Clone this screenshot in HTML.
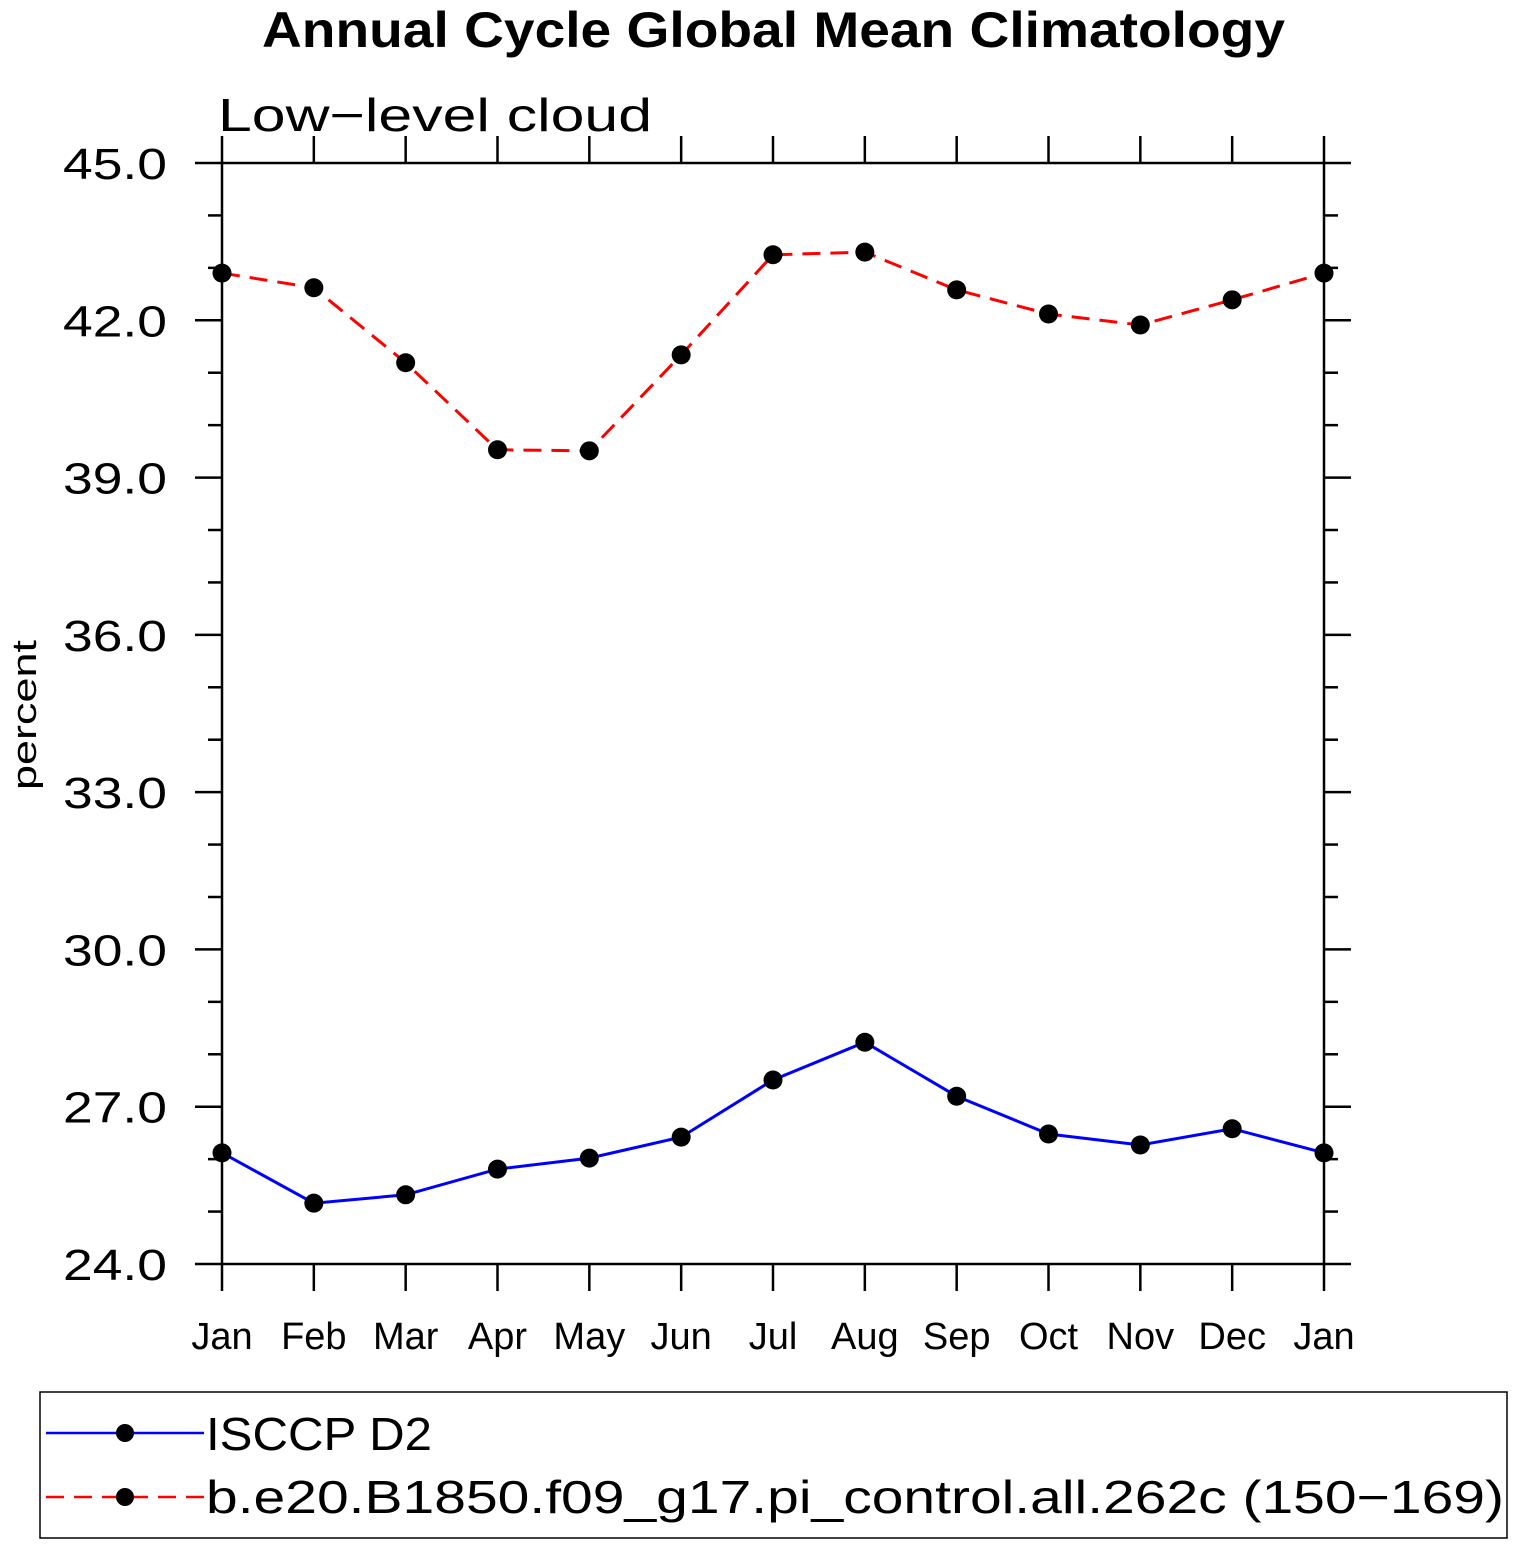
<!DOCTYPE html>
<html><head><meta charset="utf-8"><style>
body{margin:0;background:#fff;width:1514px;height:1545px;overflow:hidden}
svg text{font-family:"Liberation Sans",sans-serif}
</style></head><body>
<svg id="chart" width="1514" height="1545">
<text x="262" y="47" font-size="50" font-weight="bold" textLength="1023" lengthAdjust="spacingAndGlyphs">Annual Cycle Global Mean Climatology</text>
<text x="218" y="131" font-size="46" textLength="434" lengthAdjust="spacingAndGlyphs">Low−level cloud</text>
<text transform="translate(36,715) rotate(-90)" text-anchor="middle" font-size="34" textLength="150" lengthAdjust="spacingAndGlyphs">percent</text>
<g id="axes"></g>
<g id="series"></g>
<rect x="40" y="1392" width="1467" height="146" fill="none" stroke="#000" stroke-width="1.5"/>
<g>
<line x1="46" y1="1433" x2="204" y2="1433" stroke="#00f" stroke-width="2.5"/>
<circle cx="125" cy="1433" r="9"/>
<text x="206" y="1450" font-size="46" textLength="226" lengthAdjust="spacingAndGlyphs">ISCCP D2</text></g>
<g>
<line x1="46" y1="1497" x2="204" y2="1497" stroke="#f00" stroke-width="2.5" stroke-dasharray="18,10"/>
<circle cx="125" cy="1497" r="9"/>
<text x="206" y="1513" font-size="46" textLength="1298" lengthAdjust="spacingAndGlyphs">b.e20.B1850.f09_g17.pi_control.all.262c (150−169)</text></g>
</svg>
<script>
const months=["Jan","Feb","Mar","Apr","May","Jun","Jul","Aug","Sep","Oct","Nov","Dec","Jan"];
const isccp=[26.12,25.16,25.32,25.81,26.02,26.42,27.51,28.23,27.20,26.48,26.27,26.58,26.12];
const model=[42.9,42.62,41.19,39.53,39.51,41.34,43.25,43.30,42.58,42.12,41.91,42.39,42.9];
const yTicks=["24.0","27.0","30.0","33.0","36.0","39.0","42.0","45.0"];
const X0=222,X1=1324,Y0=1264,Y1=163,YMIN=24,YMAX=45;
const sx=i=>X0+(X1-X0)*i/(months.length-1);
const sy=v=>Y0-(Y0-Y1)*(v-YMIN)/(YMAX-YMIN);
const NS="http://www.w3.org/2000/svg";
const ax=document.getElementById('axes'),sr=document.getElementById('series');
function mk(p,t,a){const e=document.createElementNS(NS,t);for(const k in a)e.setAttribute(k,a[k]);p.appendChild(e);return e;}
const frame=mk(ax,'rect',{x:X0,y:Y1,width:X1-X0,height:Y0-Y1,fill:'none',stroke:'#000','stroke-width':2.5});


for(let v=YMIN;v<=YMAX;v++){const maj=(v-YMIN)%3===0,L=maj?27:14,y=sy(v);
 mk(ax,'line',{x1:X0-L,y1:y,x2:X0,y2:y,stroke:'#000','stroke-width':2.5});
 mk(ax,'line',{x1:X1,y1:y,x2:X1+L,y2:y,stroke:'#000','stroke-width':2.5});}
yTicks.forEach(t=>{const e=mk(ax,'text',{x:167,y:sy(parseFloat(t))+16,'text-anchor':'end','font-size':44,textLength:104,lengthAdjust:'spacingAndGlyphs'});e.textContent=t;
 
 });
months.forEach((m,i)=>{const x=sx(i);
 mk(ax,'line',{x1:x,y1:Y0,x2:x,y2:Y0+27,stroke:'#000','stroke-width':2.5});
 mk(ax,'line',{x1:x,y1:Y1-27,x2:x,y2:Y1,stroke:'#000','stroke-width':2.5});
 const e=mk(ax,'text',{x:x,y:1349,'text-anchor':'middle','font-size':38});e.textContent=m;
 
 });
function series(d,col,dash,name){
 const pl=mk(sr,'polyline',{points:d.map((v,i)=>sx(i)+','+sy(v)).join(' '),fill:'none',stroke:col,'stroke-width':3,'stroke-dasharray':dash});
 
 
 d.forEach((v,i)=>{const c=mk(sr,'circle',{cx:sx(i),cy:sy(v),r:9.5});
  
  });}
series(model,'#f00','18,10','model');
series(isccp,'#00f','none','isccp');
</script>
</body></html>
